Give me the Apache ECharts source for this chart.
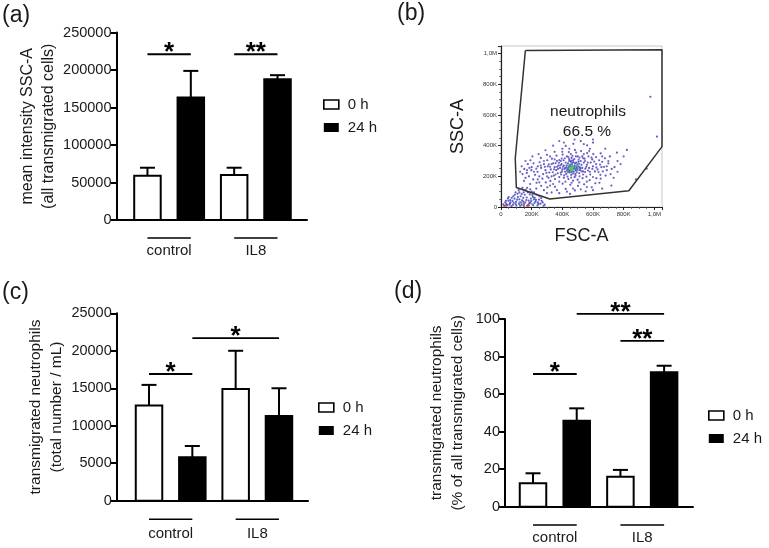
<!DOCTYPE html>
<html>
<head>
<meta charset="utf-8">
<script src="https://cdn.jsdelivr.net/npm/echarts@6/dist/echarts.min.js"></script>
<style>html,body{margin:0;padding:0;background:#fff;}#c{width:769px;height:548px;}</style>
</head>
<body>
<div id="c"></div>
<script>
// ---------- data ----------
const categories = ['control', 'IL8'];
const seriesNames = ['0 h', '24 h'];

// (a) mean intensity SSC-A
const ssc0h = [59000, 60000];
const ssc0hSD = [10700, 9700];
const ssc24h = [163400, 187800];
const ssc24hSD = [35400, 5300];
const sigA = [[1, 2, 221000, '*'], [3, 4, 221000, '**']];

// (c) transmigrated neutrophils (total number / mL)
const count0h = [12700, 14900];
const count0hSD = [2750, 5100];
const count24h = [5800, 11300];
const count24hSD = [1500, 3700];
const sigC = [[1, 2, 16900, '*'], [2, 4, 21700, '*']];

// (d) transmigrated neutrophils (% of all transmigrated cells)
const pct0h = [12.5, 16.0];
const pct0hSD = [5.3, 3.6];
const pct24h = [45.8, 71.6];
const pct24hSD = [6.6, 3.5];
const sigD = [[1, 2, 70.7, '*'], [2, 4, 102.7, '**'], [3, 4, 88.3, '**']];

// (b) flow cytometry FSC-A / SSC-A (values in K)
const fscTickValues = [0, 200, 400, 600, 800, 1000];
const fscTickLabels = ['0', '200K', '400K', '600K', '800K', '1,0M'];
const gateFSC = [159, 1050, 1050, 834, 318, 100, 93, 159];
const gateSSC = [1021, 1026, 394, 106, 52, 127, 318, 1021];
const eventsMain = [
[455,258],[468,247],[442,262],[480,270],[430,240],[495,252],[462,280],[475,230],[448,225],[505,265],
[420,255],[490,290],[437,285],[515,240],[410,270],[470,305],[458,210],[525,275],[400,245],[485,215],
[445,300],[530,255],[395,280],[510,220],[425,215],[540,290],[385,255],[520,300],[460,320],[480,195],
[550,250],[375,270],[360,240],[350,260],[370,220],[390,300],[560,275],[575,255],[585,290],[600,265],
[340,285],[325,245],[315,225],[305,265],[290,240],[275,215],[262,255],[250,200],[238,230],[222,210],
[210,180],[198,240],[182,200],[168,222],[152,248],[620,280],[640,305],[655,260],[678,318],[700,285],
[612,232],[582,212],[557,198],[532,188],[500,178],[470,172],[440,182],[410,190],[380,195],[352,182],
[322,170],[292,160],[602,345],[562,352],[522,365],[482,372],[442,358],[402,342],[362,335],[332,315],
[302,305],[622,188],[648,210],[542,148],[502,138],[452,145],[402,152],[352,132],[302,128],[262,138],
[232,158],[472,412],[422,398],[562,402],[252,292],[212,285],[192,305],[682,205],[722,248],[642,158],
[592,128],[552,102],[482,108],[422,118],[465,265],[452,242],[438,250],[488,238],[472,292],[428,272],
[498,278],[515,258],[445,235],[460,228],[478,258],[492,262],[455,295],[418,230],[535,232],[505,295],
[390,225],[408,305],[545,315],[568,238],[330,200],[280,280],[240,265],[595,310],[630,245],[660,295],
[365,300],[345,205],[310,190],[270,185],[578,175],[615,155],[500,330],[455,345],[430,330],[530,330],
[400,380],[350,360],[300,340],[580,380],[650,350],[710,330],[740,260],[760,300],[200,260],[175,280],
[160,190],[140,215],[280,110],[330,95],[380,90],[450,85],[600,110],[660,120],[720,140],[230,120],
[190,150],[260,320],[520,430],[600,420],[680,380],[690,240],[974,719],[1017,459],[821,372],[756,355],
[880,180],[950,250]
];
const eventsMain2 = [
[448,268],[462,236],[476,252],[486,248],[452,276],[466,290],[440,244],[428,258],[500,240],[510,282],
[494,226],[482,284],[436,226],[422,290],[470,218],[458,302],[518,250],[526,232],[506,308],[478,312],
[444,312],[414,248],[404,262],[398,232],[388,272],[372,248],[366,262],[378,288],[392,212],[412,206],
[434,198],[458,192],[486,204],[512,200],[536,212],[548,228],[556,262],[566,290],[548,300],[536,318],
[512,322],[488,330],[466,334],[440,326],[416,318],[396,316],[380,306],[356,286],[346,246],[338,226],
[356,212],[320,262],[330,280],[312,278],[296,222],[286,262],[300,200],[580,230],[596,248],[608,296],
[590,322],[570,330],[622,258],[636,228],[646,276],[664,232],[672,262],[420,165],[460,158],[510,160],
[560,165],[380,165],[340,150],[600,195],[250,160],[215,230],[230,250],[185,255],[170,240],[240,180],
[260,270],[280,300],[320,330],[350,310],[400,360],[445,380],[490,355],[540,345],[575,365],[620,325],
[660,330],[700,300],[690,265],[715,215],[650,185],[470,120],[430,100],[520,115],[560,130],[365,110],
[320,140],[300,90],[410,420],[480,440],[540,410],[600,440],[735,190],[760,230],[780,280],[800,330],
[150,170],[125,230],[135,265],[160,300],[205,330],[245,345],[290,370],[340,400],[380,430]
];
const eventsDebris = [
[40,12],[58,24],[78,14],[98,34],[118,20],[138,44],[158,30],[178,16],[198,40],[218,26],[238,10],[88,54],
[128,70],[168,62],[208,66],[248,48],[108,86],[148,96],[188,82],[48,40],[68,6],[150,6],[258,22],[278,8],
[28,30],[120,50],[180,42],[228,46],[160,112],[200,100],[70,60],[100,10],[130,30],[170,8],[210,12],
[240,30],[90,80],[60,45],[145,60],[185,25],[215,50],[115,110],[230,80],[265,40],[20,8],[35,20],[50,65],
[82,28],[110,65],[135,15],[155,80],[195,55],[225,35],[250,70],[140,125],[175,95],
[32,40],[45,55],[62,30],[75,40],[95,20],[105,48],[125,8],[145,35],[165,45],[190,30],[205,78],[220,60],
[245,20],[262,58],[272,30],[285,15],[95,95],[120,95],[170,125],[190,115],[215,95],[135,85],[80,70],
[55,15],[15,18]
];
const eventsDense = [[455,255],[465,250],[470,262],[448,248],[460,240]];
const eventsMid = [[430,235],[490,270],[475,245],[440,270],[120,30],[200,20],[505,255],[462,272]];
const eventsHot = [[30,8],[180,10],[150,20]];
const gateName = 'neutrophils';
const gatePct = '66.5 %';

// ---------- helpers ----------
const FONT = 'Arial, "Liberation Sans", sans-serif';
const TXT = '#1a1a1a';

function barData(means, sds) {
  return means.map((m, i) => [0, m, sds[i], i]);
}
function makeBarRender(seriesIdx, fill) {
  return function (params, api) {
    const g = api.value(3);
    const x = g * 2 + seriesIdx + 1;
    const y = api.value(1), sd = api.value(2);
    const base = api.coord([x, 0]);
    const top = api.coord([x, y]);
    const cap = api.coord([x, y + sd]);
    const w = 28.5, cw = 15;
    return {
      type: 'group',
      children: [
        { type: 'line', shape: { x1: top[0], y1: top[1], x2: cap[0], y2: cap[1] }, style: { stroke: '#000', lineWidth: 2 } },
        { type: 'line', shape: { x1: cap[0] - cw / 2, y1: cap[1], x2: cap[0] + cw / 2, y2: cap[1] }, style: { stroke: '#000', lineWidth: 2 } },
        { type: 'rect', shape: { x: base[0] - w / 2 + 1, y: top[1], width: w - 2, height: base[1] - top[1] }, style: { fill: fill, stroke: '#000', lineWidth: 2 } }
      ]
    };
  };
}
function sigRender(params, api, labels) {
  const x1 = api.value(0), x2 = api.value(1), y = api.value(2);
  const p1 = api.coord([x1, y]), p2 = api.coord([x2, y]);
  const label = labels[params.dataIndex];
  return {
    type: 'group',
    children: [
      { type: 'line', shape: { x1: p1[0], y1: p1[1], x2: p2[0], y2: p2[1] }, style: { stroke: '#000', lineWidth: 1.8 } },
      { type: 'text', x: (p1[0] + p2[0]) / 2, y: p1[1] - 1, style: { text: label, fill: '#000', font: 'bold 26px ' + FONT, align: 'center', verticalAlign: 'middle' } }
    ]
  };
}
function sigSeries(sig, gi) {
  const labels = sig.map(s => s[3]);
  return {
    type: 'custom', xAxisIndex: gi, yAxisIndex: gi, silent: true,
    data: sig.map(s => [s[0], s[1], s[2]]),
    renderItem: function (params, api) { return sigRender(params, api, labels); }
  };
}
function catSeries(gi, underline, textOff) {
  return {
    type: 'custom', xAxisIndex: gi, yAxisIndex: gi, silent: true,
    data: categories.map((c, i) => [i, 0]),
    renderItem: function (params, api) {
      const g = api.value(0);
      const p1 = api.coord([g * 2 + 1, 0]), p2 = api.coord([g * 2 + 2, 0]);
      return {
        type: 'group',
        children: [
          { type: 'line', shape: { x1: p1[0], y1: p1[1] + underline, x2: p2[0], y2: p2[1] + underline }, style: { stroke: '#000', lineWidth: 1.6 } },
          { type: 'text', x: (p1[0] + p2[0]) / 2, y: p1[1] + textOff, style: { text: categories[g], fill: TXT, font: '15px ' + FONT, align: 'center', verticalAlign: 'middle' } }
        ]
      };
    }
  };
}
function barSeries(gi, means0, sd0, means24, sd24) {
  return [
    { name: seriesNames[0], type: 'custom', xAxisIndex: gi, yAxisIndex: gi, itemStyle: { color: '#fff', borderColor: '#000' },
      data: barData(means0, sd0), renderItem: makeBarRender(0, '#fff') },
    { name: seriesNames[1], type: 'custom', xAxisIndex: gi, yAxisIndex: gi, itemStyle: { color: '#000' },
      data: barData(means24, sd24), renderItem: makeBarRender(1, '#000') }
  ];
}
function barXAxis(gi, min, max) {
  return { type: 'value', gridIndex: gi, min: min, max: max, axisLine: { show: true, lineStyle: { color: '#000', width: 2 } },
    axisTick: { show: false }, axisLabel: { show: false }, splitLine: { show: false } };
}
function barYAxis(gi, max, interval, name, gap, nameSize) {
  return { type: 'value', gridIndex: gi, min: 0, max: max, interval: interval, name: name, nameLocation: 'middle', nameGap: gap,
    nameTextStyle: { fontSize: nameSize, color: TXT, fontFamily: FONT, lineHeight: 21 },
    axisLine: { show: true, lineStyle: { color: '#000', width: 2 } },
    axisTick: { show: true, length: 6, lineStyle: { color: '#000', width: 2 } },
    axisLabel: { fontSize: 14.5, color: TXT, fontFamily: FONT, margin: 5, formatter: v => String(v) },
    splitLine: { show: false } };
}
function legendFor(left, top) {
  return { orient: 'vertical', left: left, top: top, itemWidth: 15, itemHeight: 9, itemGap: 8, selectedMode: false,
    textStyle: { fontSize: 15, color: TXT, fontFamily: FONT, padding: [0, 0, 0, 4] },
    data: [
      { name: seriesNames[0], icon: 'rect', itemStyle: { color: '#fff', borderColor: '#000', borderWidth: 1.6 } },
      { name: seriesNames[1], icon: 'rect', itemStyle: { color: '#000', borderWidth: 0 } }
    ] };
}
function flowLabel(v) {
  const i = fscTickValues.indexOf(v);
  return i >= 0 ? fscTickLabels[i] : '';
}
function flowAxis(gi, name, gap) {
  return { type: 'value', gridIndex: gi, min: 0, max: 1050, interval: 200, name: name, nameLocation: 'middle', nameGap: gap,
    nameTextStyle: { fontSize: 18, color: TXT, fontFamily: FONT },
    axisLine: { show: true, lineStyle: { color: '#222', width: 1.2 } },
    axisTick: { show: true, length: 3, lineStyle: { color: '#222', width: 1 } },
    minorTick: { show: true, splitNumber: 4, length: 2, lineStyle: { color: '#555', width: 0.8 } },
    axisLabel: { fontSize: 6, color: '#333', fontFamily: FONT, margin: 4, formatter: flowLabel },
    splitLine: { show: false } };
}
function dots(data, color, size) {
  return { type: 'scatter', xAxisIndex: 1, yAxisIndex: 1, symbolSize: size, silent: true, itemStyle: { color: color }, data: data };
}

const chart = echarts.init(document.getElementById('c'), null, { renderer: 'canvas' });
const option = {
  backgroundColor: '#fff',
  animation: false,
  textStyle: { fontFamily: FONT },
  grid: [
    { left: 116.5, top: 32.5, width: 190.5, height: 187.5 },
    { left: 501, top: 46, width: 161, height: 161, show: true, borderColor: '#c8c8c8', borderWidth: 1 },
    { left: 116.7, top: 313.3, width: 191.3, height: 187.4 },
    { left: 505, top: 319, width: 188, height: 187.7 }
  ],
  xAxis: [
    barXAxis(0, 0.286, 4.68),
    flowAxis(1, 'FSC-A', 20),
    barXAxis(2, 0.254, 4.67),
    barXAxis(3, 0.359, 4.661)
  ],
  yAxis: [
    barYAxis(0, 250000, 50000, 'mean intensity SSC-A\n(all transmigrated cells)', 54, 16),
    flowAxis(1, 'SSC-A', 34),
    barYAxis(2, 25000, 5000, 'transmigrated neutrophils\n(total number / mL)', 49, 15.5),
    barYAxis(3, 100, 20, 'transmigrated neutrophils\n(% of all transmigrated cells)', 36.5, 15.5)
  ],
  legend: [legendFor(318, 92), legendFor(313, 395), legendFor(703, 403)],
  series: [].concat(
    barSeries(0, ssc0h, ssc0hSD, ssc24h, ssc24hSD), [sigSeries(sigA, 0), catSeries(0, 18, 31)],
    barSeries(2, count0h, count0hSD, count24h, count24hSD), [sigSeries(sigC, 2), catSeries(2, 18.6, 33)],
    barSeries(3, pct0h, pct0hSD, pct24h, pct24hSD), [sigSeries(sigD, 3), catSeries(3, 18.3, 31)],
    [
      dots(eventsMain, '#3434b8', 2.2),
      dots(eventsMain2, '#5a3cb6', 2.2),
      dots(eventsDebris, '#3838b8', 2.2),
      dots(eventsMid, '#2fae9a', 2.4),
      dots(eventsDense, '#45d45a', 2.6),
      dots(eventsHot, '#e0302a', 2.6),
      { type: 'line', xAxisIndex: 1, yAxisIndex: 1, silent: true, showSymbol: false, symbol: 'none',
        lineStyle: { color: '#333', width: 1.5 }, data: gateFSC.map((v, i) => [v, gateSSC[i]]) }
    ]
  ),
  graphic: [
    { type: 'text', left: 2, top: 4, style: { text: '(a)', font: '23px ' + FONT, fill: TXT } },
    { type: 'text', left: 397, top: 2, style: { text: '(b)', font: '23px ' + FONT, fill: TXT } },
    { type: 'text', left: 2, top: 281, style: { text: '(c)', font: '23px ' + FONT, fill: TXT } },
    { type: 'text', left: 394, top: 280, style: { text: '(d)', font: '23px ' + FONT, fill: TXT } },
    { type: 'text', x: 588, y: 112, style: { text: gateName, font: '15.5px ' + FONT, fill: TXT, align: 'center', verticalAlign: 'middle' } },
    { type: 'text', x: 587, y: 132, style: { text: gatePct, font: '15.5px ' + FONT, fill: TXT, align: 'center', verticalAlign: 'middle' } }
  ]
};
chart.setOption(option);
</script>
</body>
</html>
